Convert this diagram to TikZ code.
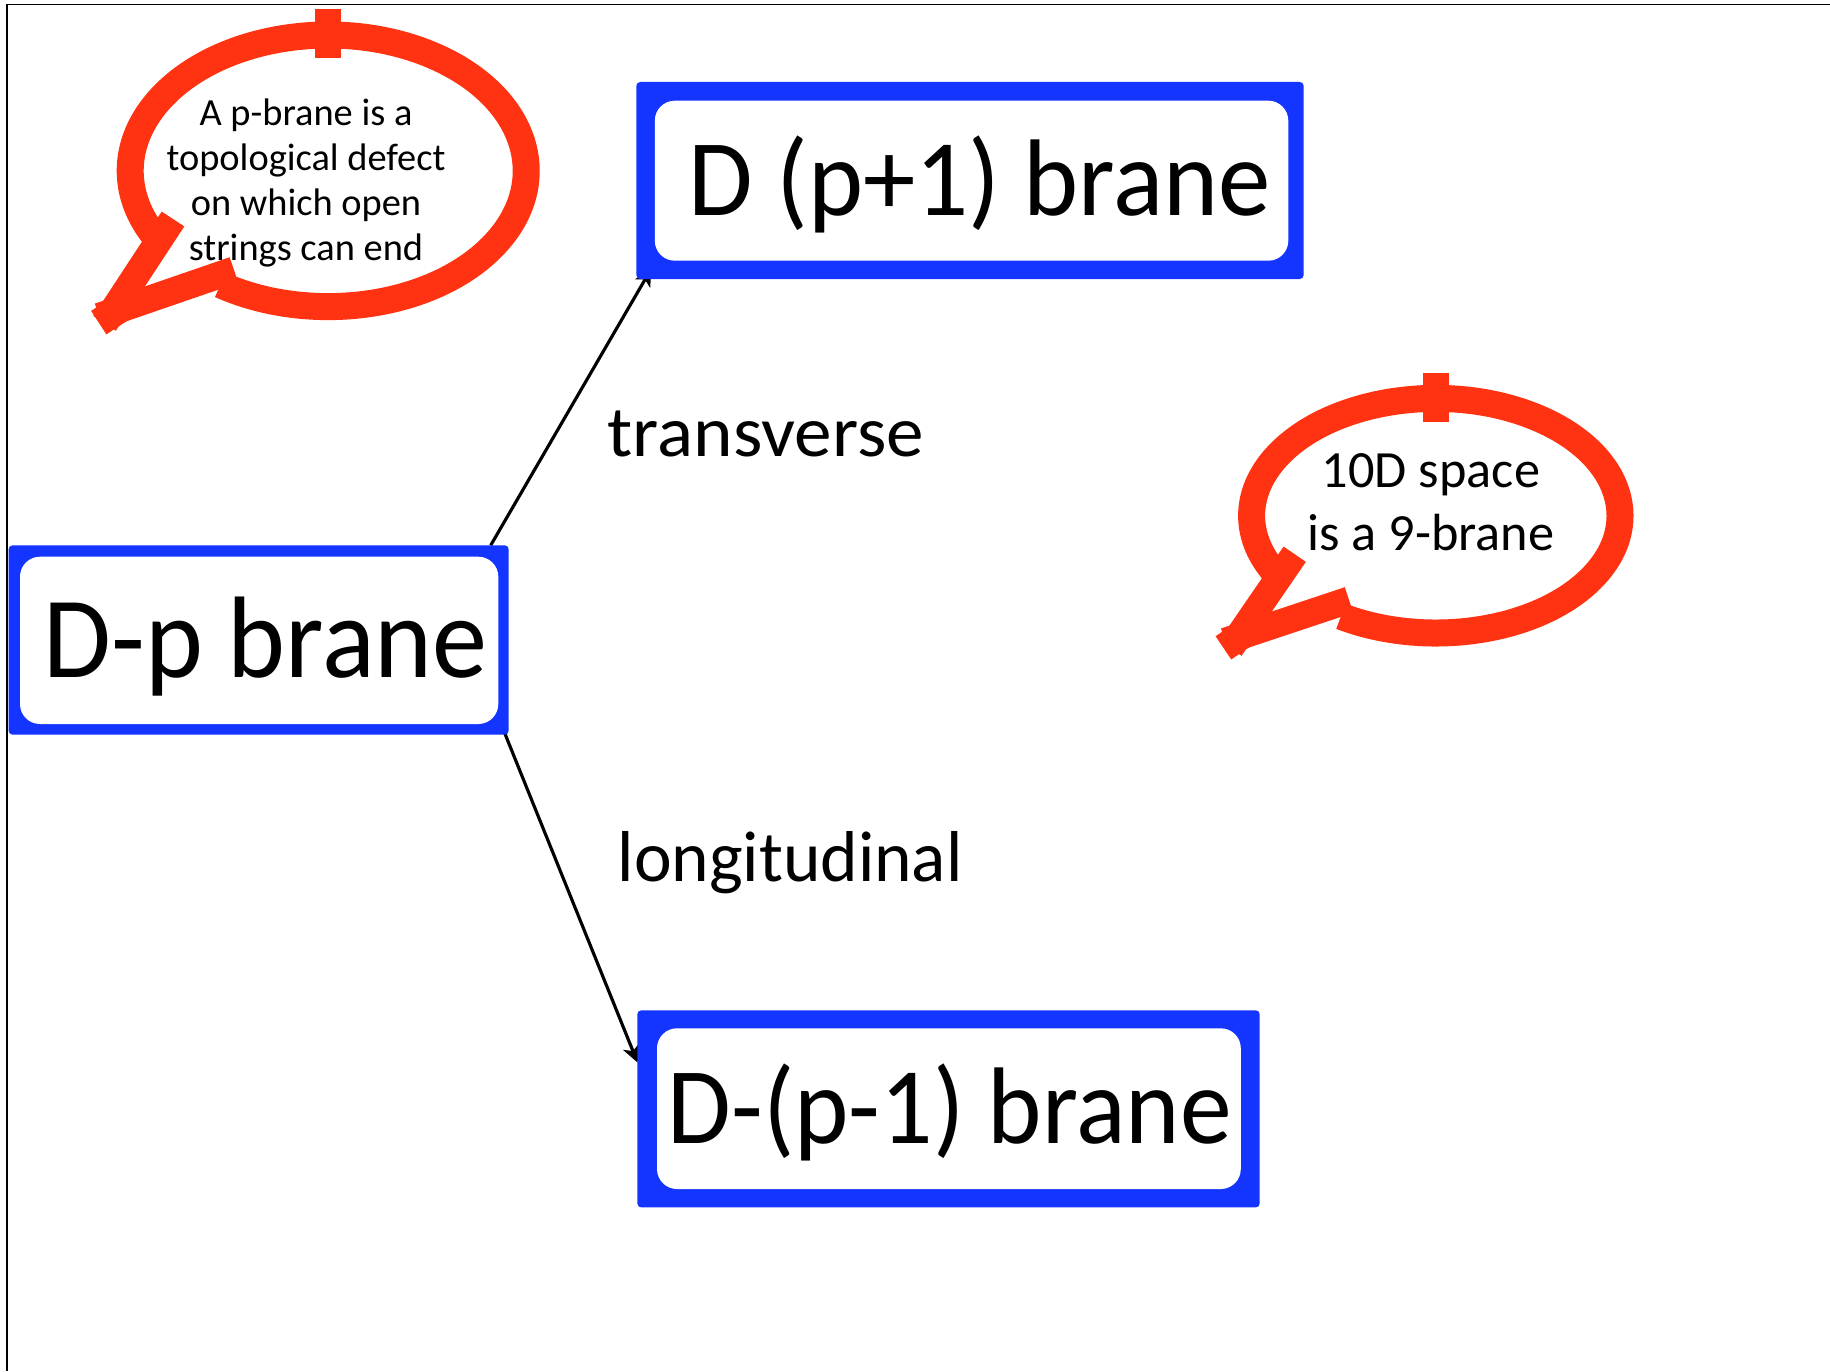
\documentclass[tikz,border=0pt]{standalone}
\usepackage{fontspec}
\setmainfont{Carlito}
\usepackage{graphicx}
\usetikzlibrary{arrows.meta,calc}
\definecolor{rimblue}{RGB}{20,52,255}
\definecolor{bubred}{RGB}{255,51,17}
\newcommand\fitw[2]{\resizebox{#1}{\height}{#2}}
\newcommand\bluerim[5]{\fill[rimblue,rounded corners=0.04cm] ([shift={(-#2,#3)}]#1.north west) rectangle ([shift={(#4,-#5)}]#1.south east);}
\pgfdeclarelayer{paper}
\pgfdeclarelayer{arrowlayer}
\pgfdeclarelayer{rimlayer}
\pgfsetlayers{paper,arrowlayer,rimlayer,main}
\begin{document}
\begin{tikzpicture}[
  brane/.style={fill=white, rounded corners=0.2cm, inner sep=0pt, text depth=0pt},
  lbl/.style={inner sep=0pt, anchor=base west},
  btxt/.style={inner sep=0pt, align=center, anchor=base},
  bub/.style={draw=bubred, line width=0.27cm, line cap=butt},
  tailpart/.style={draw=bubred, line width=0.27cm, line cap=butt},
  tickmark/.style={fill=bubred},
  conn/.style={draw=black, line width=0.9pt, -{Stealth[length=0.17cm,width=0.17cm,inset=0.045cm]}},
]
\useasboundingbox (0,0) rectangle (18.30,-13.71);
\begin{pgfonlayer}{paper}
\fill[white] (0,0) rectangle (18.30,-13.71);
\draw[line width=0.45pt] (18.30,-0.045) -- (0.07,-0.045) -- (0.07,-13.71);
\end{pgfonlayer}

% brane boxes
\node[brane, text height=0.733cm, minimum width=4.783cm, minimum height=1.673cm] (dp) at (2.5915,-6.4035)
  {\fontsize{33pt}{40pt}\selectfont\hspace{0.13cm}\fitw{4.44cm}{D-p brane}};
\node[brane, text height=0.69cm, minimum width=6.335cm, minimum height=1.600cm] (dpp) at (9.7155,-1.807)
  {\fontsize{31pt}{37pt}\selectfont\hspace{0.16cm}\fitw{5.83cm}{D (p+1) brane}};
\node[brane, text height=0.69cm, minimum width=5.838cm, minimum height=1.607cm] (dpm) at (9.489,-11.0865)
  {\fontsize{31pt}{37pt}\selectfont\hspace{0.02cm}\fitw{5.64cm}{D-(p-1) brane}};

\begin{pgfonlayer}{rimlayer}
\bluerim{dp}{0.107}{0.107}{0.097}{0.10}
\bluerim{dpp}{0.178}{0.18}{0.147}{0.176}
\bluerim{dpm}{0.19}{0.173}{0.182}{0.177}
\end{pgfonlayer}

% labels
\node[lbl] (tv) at (6.07,-4.56) {\fontsize{20.5pt}{24pt}\selectfont\fitw{3.16cm}{transverse}};
\node[lbl] (lg) at (6.17,-8.817) {\fontsize{20.5pt}{24pt}\selectfont\fitw{3.45cm}{longitudinal}};

% connectors
\begin{pgfonlayer}{arrowlayer}
\draw[conn] ([shift={(-0.083,0.107)}]dp.north east) -- ([shift={(-0.028,-0.073)}]dpp.south west);
\draw[conn] ([shift={(0.017,0.015)}]dp.south east) -- ([shift={(-0.187,-0.35)}]dpm.north west);
\end{pgfonlayer}

% bubble 1
\coordinate (tipA) at (1.12,-3.12);
\coordinate (endA1) at (1.73,-2.19);
\coordinate (endA2) at (2.34,-2.70);
\draw[bub] (3.282,-1.708) ++(237:1.98cm and 1.358cm) arc[start angle=237,end angle=568,x radius=1.98cm,y radius=1.358cm];
\draw[tailpart] (endA1) -- ($(tipA)!-0.135cm!(endA1)$);
\draw[tailpart] (endA2) -- ($(tipA)!-0.135cm!(endA2)$);
\fill[bubred, shift={(1.105,-3.15)}, rotate=33] (-0.14,-0.14) rectangle (0.14,0.14);
\fill[tickmark] (3.146,-0.093) rectangle (3.414,-0.583);
\node[btxt, font={\fontsize{10.93pt}{12.72pt}\selectfont}] (bt1) at (3.06,-2.60) {A p-brane is a\\topological defect\\on which open\\strings can end};

% bubble 2
\coordinate (tipB) at (12.38,-6.37);
\coordinate (endB1) at (12.947,-5.542);
\coordinate (endB2) at (13.49,-6.00);
\draw[bub] (14.358,-5.157) ++(239:1.842cm and 1.173cm) arc[start angle=239,end angle=571,x radius=1.842cm,y radius=1.173cm];
\draw[tailpart] (endB1) -- ($(tipB)!-0.135cm!(endB1)$);
\draw[tailpart] (endB2) -- ($(tipB)!-0.135cm!(endB2)$);
\fill[bubred, shift={(12.35,-6.40)}, rotate=34] (-0.14,-0.14) rectangle (0.14,0.14);
\fill[tickmark] (14.227,-3.727) rectangle (14.493,-4.217);
\node[btxt, font={\fontsize{14.88pt}{17.7pt}\selectfont}] (bt2) at (14.31,-5.50) {10D space\\is a 9-brane};
\end{tikzpicture}
\end{document}
